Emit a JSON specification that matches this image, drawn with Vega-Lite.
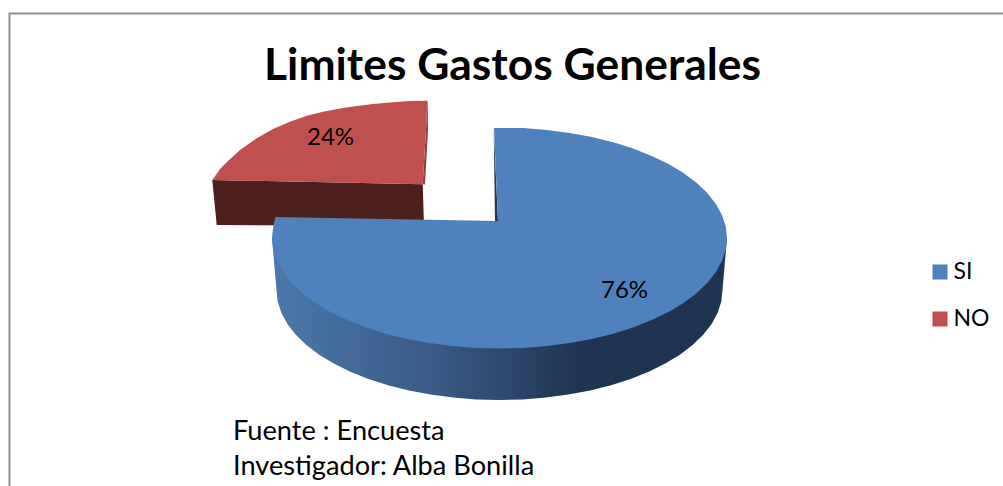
{
  "$schema": "https://vega.github.io/schema/vega-lite/v6.json",
  "autosize": "none",
  "padding": {"left": 9.5, "top": 13.5, "right": 0, "bottom": 0},
  "width": 1000,
  "height": 480,
  "background": "white",
  "view": {"stroke": "#8f8f8f", "strokeWidth": 2, "fill": "white"},
  "config": {"font": "Lato"},
  "title": {
    "text": "Limites Gastos Generales",
    "font": "Lato",
    "fontSize": 44.4,
    "fontWeight": "bold",
    "color": "black",
    "anchor": "middle",
    "dx": 3,
    "offset": -111,
    "baseline": "alphabetic"
  },
  "datasets": {
    "paredNO": [
      {"orden": 1, "x": 212.3, "y": 180},
      {"orden": 2, "x": 422.7, "y": 184.3},
      {"orden": 3, "x": 424, "y": 226},
      {"orden": 4, "x": 216.7, "y": 225}
    ],
    "cantoNO": [
      {"orden": 1, "x": 427.7, "y": 100.7},
      {"orden": 2, "x": 428, "y": 130},
      {"orden": 3, "x": 425, "y": 184.5},
      {"orden": 4, "x": 422.7, "y": 184.3}
    ],
    "paredSI": [
      {"orden": 1, "x": 272, "y": 238},
      {"orden": 2, "x": 727, "y": 238},
      {"orden": 3, "x": 722.5, "y": 290},
      {"orden": 4, "x": 721.3, "y": 301.5},
      {"orden": 5, "x": 717.6, "y": 312.9},
      {"orden": 6, "x": 711.6, "y": 324},
      {"orden": 7, "x": 703.2, "y": 334.7},
      {"orden": 8, "x": 692.6, "y": 345},
      {"orden": 9, "x": 679.9, "y": 354.7},
      {"orden": 10, "x": 665.2, "y": 363.6},
      {"orden": 11, "x": 648.7, "y": 371.7},
      {"orden": 12, "x": 630.6, "y": 379},
      {"orden": 13, "x": 611, "y": 385.3},
      {"orden": 14, "x": 590.2, "y": 390.5},
      {"orden": 15, "x": 568.4, "y": 394.6},
      {"orden": 16, "x": 545.9, "y": 397.6},
      {"orden": 17, "x": 522.8, "y": 399.4},
      {"orden": 18, "x": 499.5, "y": 400},
      {"orden": 19, "x": 476.2, "y": 399.4},
      {"orden": 20, "x": 453.1, "y": 397.6},
      {"orden": 21, "x": 430.6, "y": 394.6},
      {"orden": 22, "x": 408.8, "y": 390.5},
      {"orden": 23, "x": 388, "y": 385.3},
      {"orden": 24, "x": 368.4, "y": 379},
      {"orden": 25, "x": 350.3, "y": 371.7},
      {"orden": 26, "x": 333.8, "y": 363.6},
      {"orden": 27, "x": 319.1, "y": 354.7},
      {"orden": 28, "x": 306.4, "y": 345},
      {"orden": 29, "x": 295.8, "y": 334.7},
      {"orden": 30, "x": 287.4, "y": 324},
      {"orden": 31, "x": 281.4, "y": 312.9},
      {"orden": 32, "x": 277.7, "y": 301.5},
      {"orden": 33, "x": 276.5, "y": 290}
    ],
    "cantoSI": [
      {"orden": 1, "x": 493.7, "y": 128},
      {"orden": 2, "x": 495, "y": 221},
      {"orden": 3, "x": 498, "y": 221}
    ],
    "caras": [
      {"respuesta": "NO", "orden": 1, "x": 427.7, "y": 100.7},
      {"respuesta": "NO", "orden": 2, "x": 410, "y": 101},
      {"respuesta": "NO", "orden": 3, "x": 390, "y": 102.5},
      {"respuesta": "NO", "orden": 4, "x": 373, "y": 104},
      {"respuesta": "NO", "orden": 5, "x": 356.7, "y": 106},
      {"respuesta": "NO", "orden": 6, "x": 340, "y": 108.5},
      {"respuesta": "NO", "orden": 7, "x": 323, "y": 111.7},
      {"respuesta": "NO", "orden": 8, "x": 306, "y": 116},
      {"respuesta": "NO", "orden": 9, "x": 290, "y": 121.7},
      {"respuesta": "NO", "orden": 10, "x": 273, "y": 129},
      {"respuesta": "NO", "orden": 11, "x": 256.7, "y": 138.3},
      {"respuesta": "NO", "orden": 12, "x": 240, "y": 150},
      {"respuesta": "NO", "orden": 13, "x": 229, "y": 160},
      {"respuesta": "NO", "orden": 14, "x": 220, "y": 169},
      {"respuesta": "NO", "orden": 15, "x": 212.3, "y": 180},
      {"respuesta": "NO", "orden": 16, "x": 422.7, "y": 184.3},
      {"respuesta": "SI", "orden": 1, "x": 494, "y": 128},
      {"respuesta": "SI", "orden": 2, "x": 499.5, "y": 127.9},
      {"respuesta": "SI", "orden": 3, "x": 523.3, "y": 128.1},
      {"respuesta": "SI", "orden": 4, "x": 546.8, "y": 129.9},
      {"respuesta": "SI", "orden": 5, "x": 569.8, "y": 132.9},
      {"respuesta": "SI", "orden": 6, "x": 592, "y": 137.1},
      {"respuesta": "SI", "orden": 7, "x": 613.3, "y": 142.3},
      {"respuesta": "SI", "orden": 8, "x": 633.2, "y": 148.6},
      {"respuesta": "SI", "orden": 9, "x": 651.7, "y": 155.9},
      {"respuesta": "SI", "orden": 10, "x": 668.6, "y": 164.1},
      {"respuesta": "SI", "orden": 11, "x": 683.5, "y": 173},
      {"respuesta": "SI", "orden": 12, "x": 696.5, "y": 182.7},
      {"respuesta": "SI", "orden": 13, "x": 707.3, "y": 193.1},
      {"respuesta": "SI", "orden": 14, "x": 715.9, "y": 203.9},
      {"respuesta": "SI", "orden": 15, "x": 722, "y": 215},
      {"respuesta": "SI", "orden": 16, "x": 725.8, "y": 226.5},
      {"respuesta": "SI", "orden": 17, "x": 727, "y": 238},
      {"respuesta": "SI", "orden": 18, "x": 725.8, "y": 249.5},
      {"respuesta": "SI", "orden": 19, "x": 722, "y": 261},
      {"respuesta": "SI", "orden": 20, "x": 715.9, "y": 272.1},
      {"respuesta": "SI", "orden": 21, "x": 707.3, "y": 282.9},
      {"respuesta": "SI", "orden": 22, "x": 696.5, "y": 293.3},
      {"respuesta": "SI", "orden": 23, "x": 683.5, "y": 303},
      {"respuesta": "SI", "orden": 24, "x": 668.6, "y": 311.9},
      {"respuesta": "SI", "orden": 25, "x": 651.7, "y": 320.1},
      {"respuesta": "SI", "orden": 26, "x": 633.2, "y": 327.4},
      {"respuesta": "SI", "orden": 27, "x": 613.3, "y": 333.7},
      {"respuesta": "SI", "orden": 28, "x": 592, "y": 338.9},
      {"respuesta": "SI", "orden": 29, "x": 569.8, "y": 343.1},
      {"respuesta": "SI", "orden": 30, "x": 546.8, "y": 346.1},
      {"respuesta": "SI", "orden": 31, "x": 523.3, "y": 347.9},
      {"respuesta": "SI", "orden": 32, "x": 499.5, "y": 348.5},
      {"respuesta": "SI", "orden": 33, "x": 475.7, "y": 347.9},
      {"respuesta": "SI", "orden": 34, "x": 452.2, "y": 346.1},
      {"respuesta": "SI", "orden": 35, "x": 429.2, "y": 343.1},
      {"respuesta": "SI", "orden": 36, "x": 407, "y": 338.9},
      {"respuesta": "SI", "orden": 37, "x": 385.7, "y": 333.7},
      {"respuesta": "SI", "orden": 38, "x": 365.8, "y": 327.4},
      {"respuesta": "SI", "orden": 39, "x": 347.3, "y": 320.1},
      {"respuesta": "SI", "orden": 40, "x": 330.4, "y": 311.9},
      {"respuesta": "SI", "orden": 41, "x": 315.5, "y": 303},
      {"respuesta": "SI", "orden": 42, "x": 302.5, "y": 293.3},
      {"respuesta": "SI", "orden": 43, "x": 291.7, "y": 282.9},
      {"respuesta": "SI", "orden": 44, "x": 283.1, "y": 272.1},
      {"respuesta": "SI", "orden": 45, "x": 277, "y": 261},
      {"respuesta": "SI", "orden": 46, "x": 273.2, "y": 249.5},
      {"respuesta": "SI", "orden": 47, "x": 272, "y": 238},
      {"respuesta": "SI", "orden": 48, "x": 273.2, "y": 226.5},
      {"respuesta": "SI", "orden": 49, "x": 275.5, "y": 217},
      {"respuesta": "SI", "orden": 50, "x": 498, "y": 221}
    ],
    "porcentajes": [
      {"respuesta": "SI", "parte": 0.76, "x": 624.5, "y": 291},
      {"respuesta": "NO", "parte": 0.24, "x": 330.5, "y": 138}
    ],
    "notas": [
      {"texto": "Fuente : Encuesta", "x": 233, "y": 440},
      {"texto": "Investigador: Alba Bonilla", "x": 233, "y": 475}
    ]
  },
  "encoding": {
    "x": {"field": "x", "type": "quantitative", "axis": null, "scale": {"domain": [9.5, 1009.5]}},
    "y": {"field": "y", "type": "quantitative", "axis": null, "scale": {"domain": [493.5, 13.5]}}
  },
  "layer": [
    {
      "description": "Dark front wall of the pulled-out NO slice",
      "data": {"name": "paredNO"},
      "mark": {"type": "line", "fill": "#4d1f1d", "stroke": null},
      "encoding": {"order": {"field": "orden", "type": "quantitative"}}
    },
    {
      "data": {"name": "cantoNO"},
      "mark": {"type": "line", "fill": "#93403d", "stroke": null},
      "encoding": {"order": {"field": "orden", "type": "quantitative"}}
    },
    {
      "description": "Shaded rim of the SI slice",
      "data": {"name": "paredSI"},
      "mark": {
        "type": "line",
        "stroke": null,
        "fill": {
          "gradient": "linear",
          "x1": 0, "y1": 0, "x2": 1, "y2": 0,
          "stops": [
            {"offset": 0, "color": "#4a78ab"},
            {"offset": 0.35, "color": "#3a5c86"},
            {"offset": 0.68, "color": "#1f3450"},
            {"offset": 1, "color": "#1f3450"}
          ]
        }
      },
      "encoding": {"order": {"field": "orden", "type": "quantitative"}}
    },
    {
      "data": {"name": "cantoSI"},
      "mark": {"type": "line", "fill": "#22384f", "stroke": null},
      "encoding": {"order": {"field": "orden", "type": "quantitative"}}
    },
    {
      "description": "Top faces of both slices, source of the legend",
      "data": {"name": "caras"},
      "mark": {"type": "line", "stroke": null},
      "encoding": {
        "order": {"field": "orden", "type": "quantitative"},
        "fill": {
          "field": "respuesta",
          "type": "nominal",
          "title": null,
          "scale": {"domain": ["SI", "NO"], "range": ["#4f81bd", "#c0504d"]},
          "legend": {
            "orient": "none",
            "legendX": 919,
            "legendY": 247,
            "symbolType": "square",
            "symbolSize": 225,
            "symbolStrokeWidth": 0,
            "labelFont": "Lato",
            "labelFontSize": 23,
            "labelColor": "black",
            "labelOffset": 2,
            "rowPadding": 23
          }
        }
      }
    },
    {
      "data": {"name": "porcentajes"},
      "mark": {"type": "text", "font": "Lato", "fontSize": 24, "color": "black", "align": "center", "baseline": "middle"},
      "encoding": {"text": {"field": "parte", "type": "quantitative", "format": ".0%"}}
    },
    {
      "data": {"name": "notas"},
      "mark": {"type": "text", "font": "Lato", "fontSize": 27.2, "color": "black", "align": "left", "baseline": "alphabetic"},
      "encoding": {"text": {"field": "texto", "type": "nominal"}}
    }
  ]
}
